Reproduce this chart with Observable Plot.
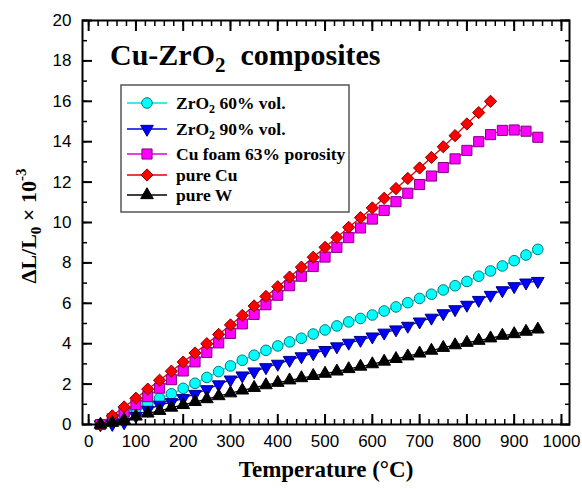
<!DOCTYPE html>
<html><head><meta charset="utf-8">
<script src="https://cdn.jsdelivr.net/npm/d3@7"></script>
<script src="https://cdn.jsdelivr.net/npm/@observablehq/plot@0.6"></script>
<style>body{margin:0;background:#fff;} svg{display:block}</style>
</head><body><div id="chart"></div>
<script>
// Temperatures (°C)
const temps = [25,50,75,100,125,150,175,200,225,250,275,300,325,350,375,400,425,450,475,500,525,550,575,600,625,650,675,700,725,750,775,800,825,850,875,900,925,950];
const tempsCu = [25,50,75,100,125,150,175,200,225,250,275,300,325,350,375,400,425,450,475,500,525,550,575,600,625,650,675,700,725,750,775,800,825,850];

// ΔL/L0 × 10^-3
const zro60 = [0,0.22,0.48,0.78,1.05,1.30,1.52,1.79,2.04,2.33,2.62,2.90,3.18,3.43,3.67,3.89,4.09,4.27,4.48,4.68,4.88,5.08,5.25,5.42,5.62,5.82,6.03,6.24,6.45,6.66,6.87,7.08,7.34,7.60,7.85,8.11,8.39,8.67];
const zro90 = [0,0.02,0.10,0.42,0.72,0.97,1.10,1.30,1.51,1.74,1.98,2.22,2.42,2.62,2.83,3.00,3.19,3.37,3.52,3.68,3.86,4.04,4.18,4.35,4.54,4.70,4.88,5.09,5.28,5.50,5.70,5.92,6.16,6.41,6.64,6.84,7.02,7.10];
const cuFoam = [0,0.28,0.62,0.98,1.38,1.80,2.22,2.65,3.10,3.57,4.04,4.51,4.98,5.45,5.93,6.40,6.87,7.34,7.82,8.29,8.77,9.25,9.73,10.17,10.60,11.03,11.45,11.88,12.30,12.72,13.15,13.57,14.00,14.35,14.56,14.58,14.52,14.22];
const pureCu = [0,0.43,0.87,1.30,1.75,2.19,2.64,3.09,3.54,4.00,4.46,4.93,5.40,5.87,6.34,6.82,7.30,7.79,8.28,8.77,9.26,9.76,10.24,10.72,11.20,11.68,12.18,12.70,13.22,13.75,14.30,14.88,15.44,16.00];
const pureW = [0,0.09,0.22,0.40,0.55,0.68,0.84,0.97,1.12,1.26,1.41,1.55,1.69,1.82,1.95,2.07,2.19,2.30,2.41,2.52,2.63,2.75,2.87,2.99,3.12,3.25,3.38,3.52,3.66,3.80,3.93,4.05,4.15,4.27,4.40,4.48,4.60,4.71];

// Tick values
const xMajor = [0,100,200,300,400,500,600,700,800,900,1000];
const xMinor = [0,20,40,60,80,100,120,140,160,180,200,220,240,260,280,300,320,340,360,380,400,420,440,460,480,500,520,540,560,580,600,620,640,660,680,700,720,740,760,780,800,820,840,860,880,900,920,940,960,980,1000];
const yMajor = [0,2,4,6,8,10,12,14,16,18,20];
const yMinor = [0,1,2,3,4,5,6,7,8,9,10,11,12,13,14,15,16,17,18,19,20];

const triangleDown = {draw(context, size) {
  const y = Math.sqrt(size / (Math.sqrt(3) * 3));
  context.moveTo(0, y * 2);
  context.lineTo(-Math.sqrt(3) * y, -y);
  context.lineTo(Math.sqrt(3) * y, -y);
  context.closePath();
}};

const series = [
  {key: "zro60", label: ["ZrO", "2", " 60% vol."], T: temps, v: zro60, fill: "#00FFFF", stroke: "#007878", line: "#00E0E0", symbol: "circle", r: 5.3},
  {key: "zro90", label: ["ZrO", "2", " 90% vol."], T: temps, v: zro90, fill: "#0000FF", stroke: "#000080", line: "#0000E0", symbol: triangleDown, r: 4.7},
  {key: "foam", label: ["Cu foam 63% porosity"], T: temps, v: cuFoam, fill: "#FF00FF", stroke: "#800080", line: "#E000E0", symbol: "square", r: 5.7},
  {key: "cu", label: ["pure Cu"], T: tempsCu, v: pureCu, fill: "#FF0000", stroke: "#800000", line: "#E00000", symbol: "diamond2", r: 5.5},
  {key: "w", label: ["pure W"], T: temps, v: pureW, fill: "#000000", stroke: "#000000", line: "#000000", symbol: "triangle", r: 4.7}
];

const marks = [];
for (const s of series) {
  const rows = s.T.map((t, i) => ({T: t, v: s.v[i]}));
  marks.push(Plot.line(rows, {x: "T", y: "v", stroke: s.line, strokeWidth: 1.3}));
}
for (const s of series) {
  const rows = s.T.map((t, i) => ({T: t, v: s.v[i]}));
  marks.push(Plot.dot(rows, {x: "T", y: "v", symbol: () => s.symbol, fill: s.fill, stroke: s.stroke, strokeWidth: 1, r: s.r}));
}

const tickFont = "Liberation Sans, Arial, sans-serif";
const fmt = d => String(d);
marks.push(
  Plot.frame({stroke: "#000", strokeWidth: 2}),
  Plot.axisX(xMajor, {anchor: "bottom", tickSize: 0, tickPadding: 10, tickFormat: fmt, fontSize: 17, fontFamily: tickFont, label: null}),
  Plot.axisX(xMajor, {anchor: "bottom", tickSize: -10, fill: "none", strokeWidth: 2, label: null}),
  Plot.axisX(xMinor, {anchor: "bottom", tickSize: -5, fill: "none", strokeWidth: 1.5, label: null}),
  Plot.axisX(xMajor, {anchor: "top", tickSize: -10, fill: "none", strokeWidth: 2, label: null}),
  Plot.axisX(xMinor, {anchor: "top", tickSize: -5, fill: "none", strokeWidth: 1.5, label: null}),
  Plot.axisY(yMajor, {anchor: "left", tickSize: 0, tickPadding: 11, tickFormat: fmt, fontSize: 17, fontFamily: tickFont, label: null}),
  Plot.axisY(yMajor, {anchor: "left", tickSize: -10, fill: "none", strokeWidth: 2, label: null}),
  Plot.axisY(yMinor, {anchor: "left", tickSize: -5, fill: "none", strokeWidth: 1.5, label: null}),
  Plot.axisY(yMajor, {anchor: "right", tickSize: -10, fill: "none", strokeWidth: 2, label: null}),
  Plot.axisY(yMinor, {anchor: "right", tickSize: -5, fill: "none", strokeWidth: 1.5, label: null}),
  Plot.text(["Temperature (°C)"], {frameAnchor: "bottom", dy: 52, fontFamily: "Liberation Serif, Times New Roman, serif", fontWeight: "bold", fontSize: 23, fill: "#000"})
);

const svg = Plot.plot({
  width: 582, height: 489,
  marginLeft: 82, marginRight: 13, marginTop: 20, marginBottom: 65,
  x: {domain: [-13, 1017]},
  y: {domain: [0, 20]},
  style: {fontFamily: tickFont, fontSize: "17px", color: "#000", background: "#fff"},
  marks
});
document.getElementById("chart").appendChild(svg);

// Annotations: title, y label, legend
const serif = "Liberation Serif, Times New Roman, serif";
const g = d3.select(svg).append("g").attr("font-family", serif).attr("font-weight", "bold").attr("fill", "#000").attr("text-anchor", "start");

const title = g.append("text").attr("x", 110).attr("y", 65).attr("font-size", 30);
title.append("tspan").text("Cu-ZrO");
title.append("tspan").attr("font-size", 21).attr("dy", 7).text("2");
title.append("tspan").attr("dy", -7).text("\u00A0\u00A0composites");

const yl = g.append("text").attr("transform", "translate(36,226) rotate(-90)").attr("text-anchor", "middle").attr("font-size", 22);
yl.append("tspan").text("\u0394L/L");
yl.append("tspan").attr("font-size", 15).attr("dy", 5).text("0");
yl.append("tspan").attr("dy", -5).text("\u00A0\u00D7\u00A010");
yl.append("tspan").attr("font-size", 15).attr("dy", -10).text("-3");

const lg = g.append("g");
lg.append("rect").attr("x", 121).attr("y", 85).attr("width", 228).attr("height", 127)
  .attr("fill", "#fff").attr("stroke", "#555").attr("stroke-width", 1.5);
const rowsY = [103, 129, 154, 175, 195];
const symMap = {circle: d3.symbolCircle, square: d3.symbolSquare, diamond2: d3.symbolDiamond2, triangle: d3.symbolTriangle};
series.forEach((s, i) => {
  const y = rowsY[i];
  lg.append("line").attr("x1", 127).attr("x2", 167).attr("y1", y).attr("y2", y).attr("stroke", s.line).attr("stroke-width", 1.5);
  const st = typeof s.symbol === "string" ? symMap[s.symbol] : s.symbol;
  lg.append("path").attr("transform", `translate(147,${y})`).attr("d", d3.symbol(st, Math.PI * s.r * s.r)())
    .attr("fill", s.fill).attr("stroke", s.stroke).attr("stroke-width", 1);
  const t = lg.append("text").attr("x", 176).attr("y", y + 6).attr("font-size", 17.5);
  if (s.label.length === 3) {
    t.append("tspan").text(s.label[0]);
    t.append("tspan").attr("font-size", 12).attr("dy", 4).text(s.label[1]);
    t.append("tspan").attr("dy", -4).text(s.label[2].replace(/ /g, "\u00A0"));
  } else {
    t.append("tspan").text(s.label[0]);
  }
});
</script>
</body></html>
